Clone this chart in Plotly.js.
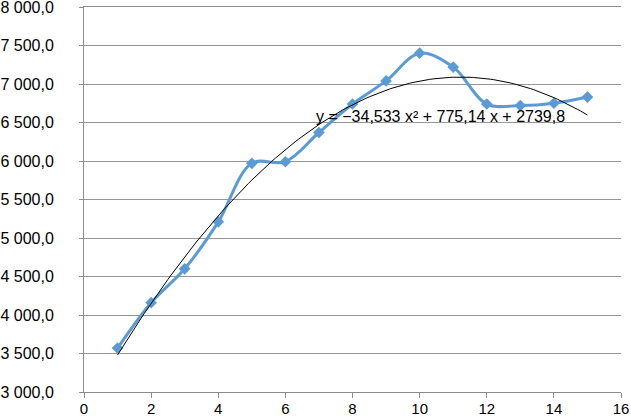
<!DOCTYPE html>
<html>
<head>
<meta charset="utf-8">
<script src="https://cdn.plot.ly/plotly-3.0.1.min.js"></script>
<style>html,body{margin:0;padding:0;background:#fff}#chart{width:631px;height:417px}</style>
</head>
<body>
<div id="chart"></div>
<script>
// Data
const xValues = [1, 2, 3, 4, 5, 6, 7, 8, 9, 10, 11, 12, 13, 14, 15];
const yValues = [3570, 4160, 4600, 5210, 5970, 5990, 6370, 6740, 7040, 7400, 7220, 6740, 6720, 6750, 6830];
// Polynomial trendline coefficients as shown in the chart label (a x^2 + b x + c)
const trendCoeffs = [-34.533, 775.14, 2739.8];
const trendLabel = "y = −34,533 x² + 775,14 x + 2739,8";
const xTickVals = [0, 2, 4, 6, 8, 10, 12, 14, 16];
const yTickVals = [3000, 3500, 4000, 4500, 5000, 5500, 6000, 6500, 7000, 7500, 8000];
const yMin = 3000, yMax = 8000;

const trendX = [], trendY = [];
const x0 = xValues[0], x1 = xValues[xValues.length - 1];
for (let i = 0; i <= 140; i++) {
  const x = x0 + (x1 - x0) * i / 140;
  trendX.push(x);
  trendY.push(trendCoeffs[0] * x * x + trendCoeffs[1] * x + trendCoeffs[2]);
}

const data = [
  {
    x: xValues, y: yValues, type: 'scatter', mode: 'lines+markers',
    line: {color: '#5B9BD5', width: 3, shape: 'spline', smoothing: 1},
    marker: {symbol: 'diamond', size: 9, color: '#5B9BD5'},
    showlegend: false
  },
  {
    x: trendX, y: trendY, type: 'scatter', mode: 'lines',
    line: {color: '#000000', width: 1},
    showlegend: false
  }
];

const FONT = 'Liberation Sans, Arial, sans-serif';
const layout = {
  width: 631, height: 417,
  margin: {l: 84, r: 10, t: 7, b: 25, pad: 0},
  paper_bgcolor: '#fff', plot_bgcolor: '#fff',
  separators: ', ',
  font: {family: FONT, size: 16, color: '#000'},
  xaxis: {
    range: [0, 16], tickvals: xTickVals, ticktext: xTickVals.map(String),
    showgrid: false, zeroline: false,
    showline: true, mirror: true, linecolor: '#8c8c8c', linewidth: 1,
    ticks: 'outside', ticklen: 5, tickcolor: '#8c8c8c',
    ticklabeloverflow: 'allow', ticklabelstandoff: -2,
    tickfont: {size: 15, color: '#000', family: FONT}
  },
  yaxis: {
    range: [yMin, yMax], tickvals: yTickVals, tickformat: ',.1f',
    ticklabelstandoff: 22, ticklabeloverflow: 'allow',
    showgrid: true, gridcolor: '#969696', gridwidth: 1, zeroline: false,
    showline: true, linecolor: '#8c8c8c', linewidth: 1,
    ticks: 'outside', ticklen: 4, tickcolor: '#8c8c8c',
    tickfont: {size: 16, color: '#000', family: FONT}
  },
  annotations: [{
    x: 6.85, y: 6575, xref: 'x', yref: 'y', xanchor: 'left', yanchor: 'middle',
    text: trendLabel, showarrow: false,
    font: {size: 16, color: '#000', family: FONT}
  }]
};

Plotly.newPlot('chart', data, layout, {displayModeBar: false, staticPlot: true});
</script>
</body>
</html>
